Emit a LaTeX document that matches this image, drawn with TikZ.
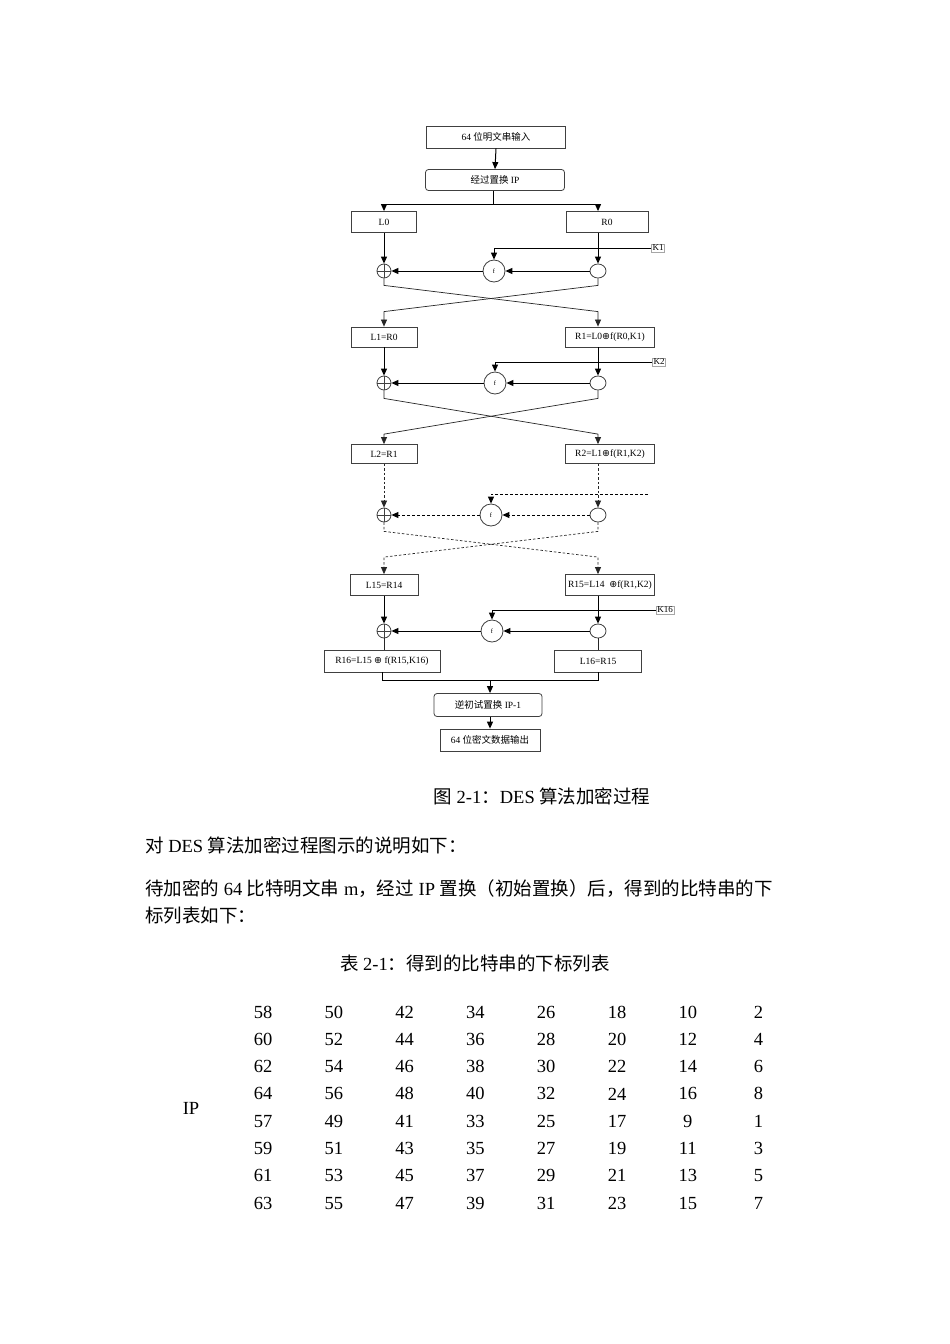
\documentclass[tikz,border=0pt]{standalone}
\usepackage{fontspec}
\setmainfont{Liberation Serif}
\newfontfamily\cj{Noto Sans CJK SC}
\newfontfamily\sym{DejaVu Sans}
\newcommand{\xo}{{\sym ⊕}}
\usetikzlibrary{arrows.meta,shapes.geometric,calc}
\begin{document}
\begin{tikzpicture}[x=1pt,y=-1pt,
  box/.style={draw=black!75, line width=0.8pt, inner sep=0pt, font=\fontsize{9.5}{11}\selectfont},
  rbox/.style={box, rounded corners=3pt},
  ln/.style={line width=1pt, black},
  arr/.style={ln, -{Triangle[length=7pt,width=6pt]}},
  darr/.style={arr, dash pattern=on 3pt off 2pt},
  cross/.style={line width=0.7pt, black!85},
  crossarr/.style={cross, -{Triangle[length=7pt,width=6pt]}},
  dcrossarr/.style={crossarr, dash pattern=on 2.5pt off 2pt},
  xor/.style={circle, draw=black!75, line width=0.8pt, minimum size=14pt, inner sep=0pt,
    path picture={\draw[line width=0.8pt] (path picture bounding box.north) -- (path picture bounding box.south)
      (path picture bounding box.west) -- (path picture bounding box.east);}},
  fn/.style={ellipse, draw=black!75, line width=0.8pt, minimum width=22pt, minimum height=22pt, inner sep=0pt, font=\fontsize{6.5}{7}\selectfont},
  sp/.style={ellipse, draw=black!75, line width=0.8pt, minimum width=16pt, minimum height=14pt, inner sep=0pt},
  key/.style={draw=black!35, line width=0.4pt, inner sep=1pt, font=\fontsize{9}{10}\selectfont},
  body/.style={font=\fontsize{18.5}{22}\selectfont, inner sep=0pt},
]
\fill[white] (0,0) rectangle (950,1344);
\useasboundingbox (0,0) rectangle (950,1344);

% top boxes
\node[box, minimum width=139pt, minimum height=22pt] (in) at (496,137) {64 {\cj 位明文串输入}};
\node[rbox, minimum width=139pt, minimum height=21pt] (ip) at (495,180) {{\cj 经过置换} IP};
\node[box, minimum width=65pt, minimum height=21pt] (L0) at (384,222) {L0};
\node[box, minimum width=82pt, minimum height=21pt] (R0) at (607,222) {R0};

% round 1
\node[xor] (x1) at (384,271) {};
\node[fn] (f1) at (494,271) {f};
\node[sp] (s1) at (598,271) {};
\node[key] (k1) at (658,248) {K1};
\node[box, minimum width=66pt, minimum height=20pt] (L1) at (384,337) {L1=R0};
\node[box, minimum width=89pt, minimum height=20pt] (R1) at (610,337) {R1=L0\xo f(R0,K1)};

% round 2
\node[xor] (x2) at (384,383) {};
\node[fn] (f2) at (495,383) {f};
\node[sp] (s2) at (598,383) {};
\node[key] (k2) at (659,362) {K2};
\node[box, minimum width=66pt, minimum height=19pt] (L2) at (384,454) {L2=R1};
\node[box, minimum width=89pt, minimum height=19pt] (R2) at (610,454) {R2=L1\xo f(R1,K2)};

% round 3 (dashed)
\node[xor] (x3) at (384,515) {};
\node[fn] (f3) at (491,515) {f};
\node[sp] (s3) at (598,515) {};
\coordinate (k3) at (648,494);
\node[box, minimum width=68pt, minimum height=21pt] (L15) at (384,585) {L15=R14};
\node[box, minimum width=89pt, minimum height=21pt] (R15) at (610,585) {R15=L14\ \ \xo f(R1,K2)};

% round 16
\node[xor] (x4) at (384,631) {};
\node[fn] (f4) at (492,631) {f};
\node[sp] (s4) at (598,631) {};
\node[key] (k4) at (665,610) {K16};
\node[box, minimum width=116pt, minimum height=22pt] (R16) at (382,661) {R16=L15 \xo\ f(R15,K16)};
\node[box, minimum width=87pt, minimum height=22pt] (L16) at (598,661) {L16=R15};

% output
\node[rbox, minimum width=108pt, minimum height=23pt] (ipinv) at (488,705) {{\cj 逆初试置换} IP-1};
\node[box, minimum width=100pt, minimum height=22pt] (out) at (490,740) {64 {\cj 位密文数据输出}};

% connectors top
\draw[arr] (in.south) -- (ip.north);
\coordinate (sp0) at ($(ip.south)+(-2,14)$);
\draw[ln] (ip.south -| sp0) -- (sp0);
\draw[arr] (sp0) -| (L0.north);
\draw[arr] (sp0) -| (s1 |- R0.north);

% round 1 connectors
\draw[arr] (L0.south) -- (x1.north);
\draw[arr] (s1 |- R0.south) -- (s1.north);
\draw[arr] (k1.west) -| (f1.north);
\draw[arr] (s1.west) -- (f1.east);
\draw[arr] (f1.west) -- (x1.east);
\draw[crossarr] (x1.south) -- ++(0,7) -- ($(s1 |- R1.north)+(0,-15)$) -- (s1 |- R1.north);
\draw[crossarr] (s1.south) -- ++(0,7) -- ($(L1.north)+(0,-15)$) -- (L1.north);

% round 2 connectors
\draw[arr] (L1.south) -- (x2.north);
\draw[arr] (s2 |- R1.south) -- (s2.north);
\draw[arr] (k2.west) -| (f2.north);
\draw[arr] (s2.west) -- (f2.east);
\draw[arr] (f2.west) -- (x2.east);
\draw[crossarr] (x2.south) -- ++(0,8) -- ($(s2 |- R2.north)+(0,-10)$) -- (s2 |- R2.north);
\draw[crossarr] (s2.south) -- ++(0,8) -- ($(L2.north)+(0,-10)$) -- (L2.north);

% round 3 connectors (dashed)
\draw[dcrossarr] (L2.south) -- (x3.north);
\draw[dcrossarr] (s3 |- R2.south) -- (s3.north);
\draw[darr] (k3) -| (f3.north);
\draw[darr] (s3.west) -- (f3.east);
\draw[darr] (f3.west) -- (x3.east);
\draw[dcrossarr] (x3.south) -- ++(0,9) -- ($(s3 |- R15.north)+(0,-17)$) -- (s3 |- R15.north);
\draw[dcrossarr] (s3.south) -- ++(0,9) -- ($(L15.north)+(0,-17)$) -- (L15.north);

% round 16 connectors
\draw[arr] (L15.south) -- (x4.north);
\draw[arr] (s4 |- R15.south) -- (s4.north);
\draw[arr] (k4.west) -| (f4.north);
\draw[arr] (s4.west) -- (f4.east);
\draw[arr] (f4.west) -- (x4.east);
\draw[cross] (x4.south) -- (x4 |- R16.north);
\draw[cross] (s4.south) -- (L16.north);

% merge and output
\coordinate (mg) at ($(R16.south)+(0,8)$);
\draw[ln] (R16.south) -- (mg) -- (mg -| L16.south) -- (L16.south);
\draw[arr] (mg -| out.north) -- (ipinv.north -| out.north);
\draw[arr] (ipinv.south -| out.north) -- (out.north);

% body text
\node[body] (cap1) at (542,796) {{\cj 图} 2-1{\cj ：}DES {\cj 算法加密过程}};
\node[body, anchor=west] (p1) at (145,845) {{\cj 对} DES {\cj 算法加密过程图示的说明如下：}};
\node[body, anchor=west] (p2) at (145,889) {{\cj 待加密的} 64 {\cj 比特明文串} m{\cj ，经过} IP {\cj 置换（初始置换）后，得到的比特串的下}};
\node[body, anchor=west] (p3) at (145,916) {{\cj 标列表如下：}};
\node[body] (cap2) at (475,963) {{\cj 表} 2-1{\cj ：得到的比特串的下标列表}};

% table
\node[body] (iplab) at (191,1108) {IP};
\foreach \row [count=\i] in {{58,50,42,34,26,18,10,2},{60,52,44,36,28,20,12,4},{62,54,46,38,30,22,14,6},{64,56,48,40,32,24,16,8},{57,49,41,33,25,17,9,1},{59,51,43,35,27,19,11,3},{61,53,45,37,29,21,13,5},{63,55,47,39,31,23,15,7}}{
  \foreach \v [count=\j] in \row {
    \node[body] (t\i-\j) at ({263+70.8*(\j-1)},{1012+27.3*(\i-1)}) {\v};
  }
}
\end{tikzpicture}
\end{document}
